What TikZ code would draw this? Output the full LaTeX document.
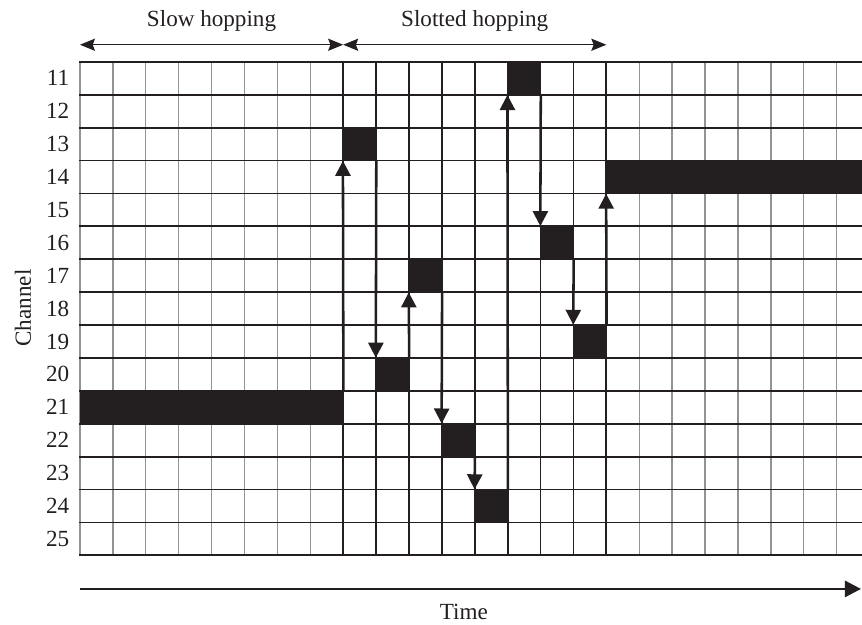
\documentclass[tikz,border=0pt]{standalone}
\usepackage{fontspec}
\setmainfont{Liberation Serif}
\usetikzlibrary{arrows.meta}
\definecolor{ink}{HTML}{231F20}
\begin{document}
\begin{tikzpicture}[x=1cm,y=1cm,
  lbl/.style={font=\fontsize{20}{24}\selectfont, text=ink, inner sep=0pt},
  gridh/.style={draw=ink, line width=1.6pt},
  gridv/.style={draw=gray!85, line width=1.2pt},
  gridvb/.style={draw=ink, line width=1.6pt},
  blk/.style={rectangle, fill=ink, draw=none, inner sep=0pt, minimum width=1cm, minimum height=1cm},
  hop/.style={draw=ink, line width=2.2pt, -{Triangle[length=13pt,width=13pt]}},
  span/.style={draw=ink, line width=1.2pt, {Stealth[length=13pt,width=10.5pt,inset=2pt]}-{Stealth[length=13pt,width=10.5pt,inset=2pt]}},
  timearrow/.style={draw=ink, line width=2.3pt, -{Triangle[length=14pt,width=14pt]}}
]
\useasboundingbox (-2.43,1.88) rectangle (23.77,-17.11);
\clip (-2.43,1.88) rectangle (23.77,-17.11);

% grid
\foreach \i in {0,...,7,17,18,...,24} \draw[gridv] (\i,0) -- (\i,-15);
\foreach \j in {0,...,15} \draw[gridh] (-0.02,-\j) -- (24,-\j);
\foreach \i in {8,...,16} \draw[gridvb] (\i,0) -- (\i,-15);

% blocks
\node[blk, minimum width=8cm] (b21) at (4,-10.5) {};
\node[blk] (b13) at (8.5,-2.5) {};
\node[blk] (b20) at (9.5,-9.5) {};
\node[blk] (b17) at (10.5,-6.5) {};
\node[blk] (b22) at (11.5,-11.5) {};
\node[blk] (b24) at (12.5,-13.5) {};
\node[blk] (b11) at (13.5,-0.5) {};
\node[blk] (b16) at (14.5,-5.5) {};
\node[blk] (b19) at (15.5,-8.5) {};
\node[blk, minimum width=8cm] (b14) at (20,-3.5) {};

% hops
\draw[hop] (b21.north east) -- (b13.south west);
\draw[hop] (b13.south east) -- (b20.north west);
\draw[hop] (b20.north east) -- (b17.south west);
\draw[hop] (b17.south east) -- (b22.north west);
\draw[hop] (b22.south east) -- (b24.north west);
\draw[hop] (b24.north east) -- (b11.south west);
\draw[hop] (b11.south east) -- (b16.north west);
\draw[hop] (b16.south east) -- (b19.north west);
\draw[hop] (b19.north east) -- (b14.south west);

% channel labels
\foreach \c in {11,...,25} \node[lbl, anchor=east] (ch\c) at (-0.32,{-(\c-11+0.5)}) {\c};
\node[lbl, rotate=90] (chan) at (-1.73,-7.48) {Channel};

% top spans
\coordinate (s0) at (0,0.52);
\coordinate (s1) at (8,0.52);
\coordinate (s2) at (16,0.52);
\draw[span] (s0) -- (s1);
\draw[span] (s1) -- (s2);
\node[lbl, anchor=base] (slow) at (4,1.06) {Slow hopping};
\node[lbl, anchor=base] (slot) at (12,1.06) {Slotted hopping};

% time axis
\coordinate (t0) at (0,-16.02);
\coordinate (t1) at (23.74,-16.02);
\draw[timearrow] (t0) -- (t1);
\node[lbl, anchor=base] (time) at (11.67,-16.96) {Time};
\end{tikzpicture}
\end{document}
